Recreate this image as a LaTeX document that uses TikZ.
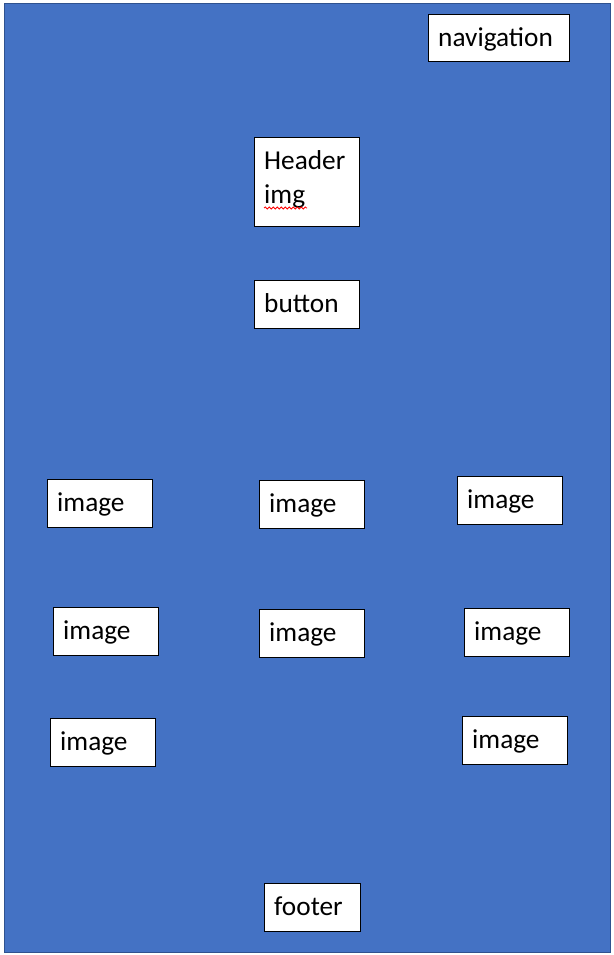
\documentclass[tikz,border=0pt]{standalone}
\usepackage{fontspec}
\setmainfont{Carlito}
\usetikzlibrary{decorations.pathmorphing,fit}
\definecolor{bg}{HTML}{4472C4}
\definecolor{bgedge}{HTML}{2F528F}
\newcommand\wbox[6]{%
  \path (#2,#3) coordinate (#1nw) (#4,#5) coordinate (#1se);
  \node[box, fit=(#1nw)(#1se)] (#1) {};
  \node[lbl] (#1t) at ([shift={(10,32.5)}]#1.north west) {#6};}
\begin{document}
\begin{tikzpicture}[x=1pt,y=-1pt,
  box/.style={draw=black, fill=white, line width=1pt, inner sep=0pt},
  lbl/.style={anchor=base west, inner sep=0pt, font=\fontsize{27.3}{34}\selectfont}]
\useasboundingbox (0,0) rectangle (613,955);
\fill[white] (0,0) rectangle (613,955);
\draw[fill=bg, draw=bgedge, line width=1pt] (4.5,3.5) rectangle (610,952.5);
\wbox{nav}{428.5}{14.5}{569}{62}{navigation}
\wbox{header}{254.5}{137.5}{359}{226}{Header}
\node[lbl] (headerimg) at ([shift={(10,66.5)}]header.north west) {img};
\draw[red, line width=0.8pt, decorate, decoration={snake, amplitude=1pt, segment length=4pt}] (264,208) -- (307,208);
\wbox{button}{254.5}{280.5}{359}{328}{button}
\wbox{imga}{47.5}{479.5}{152}{527}{image}
\wbox{imgb}{259.5}{480.5}{364}{528}{image}
\wbox{imgc}{457.5}{476.5}{562}{524}{image}
\wbox{imgd}{53.5}{607.5}{158}{655}{image}
\wbox{imge}{259.5}{609.5}{364}{657}{image}
\wbox{imgf}{464.5}{608.5}{569}{656}{image}
\wbox{imgg}{50.5}{718.5}{155}{766}{image}
\wbox{imgh}{462.5}{716.5}{567}{764}{image}
\wbox{footer}{264.5}{883.5}{360}{931}{footer}
\end{tikzpicture}
\end{document}
